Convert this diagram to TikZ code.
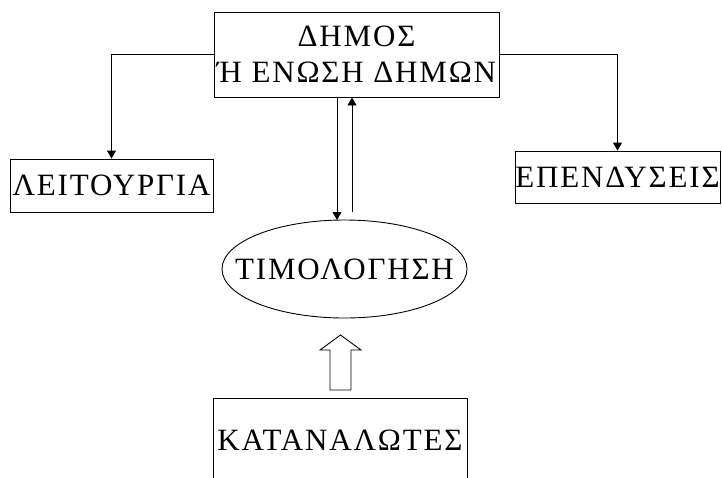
\documentclass[tikz,border=0pt]{standalone}
\usepackage{fontspec}
\setmainfont{Liberation Serif}[LetterSpace=6]
\usetikzlibrary{arrows.meta,shapes.geometric,calc}
\begin{document}
\begin{tikzpicture}[x=1pt,y=-1pt,
  lbl/.style={font=\fontsize{31}{36}\selectfont},
  box/.style={draw, line width=0.9pt, inner sep=0pt, lbl, align=center},
  conn/.style={line width=0.9pt, -{Triangle[length=8pt,width=9pt]}}]
\useasboundingbox (0,0) rectangle (722,477);
\clip (0,0) rectangle (722,477);
\node[box, minimum width=285pt, minimum height=85pt] (top) at (356.5,54.5) {ΔΗΜΟΣ\\Ή ΕΝΩΣΗ ΔΗΜΩΝ};
\node[box, minimum width=203pt, minimum height=53pt] (leit) at (111.5,185.5) {ΛΕΙΤΟΥΡΓΙΑ};
\node[box, minimum width=205pt, minimum height=52pt] (epen) at (617.5,177) {ΕΠΕΝΔΥΣΕΙΣ};
\node[draw, line width=0.9pt, ellipse, inner sep=0pt, minimum width=245pt, minimum height=98pt] (tim) at (344.5,269) {};
\node[lbl, inner sep=0pt] (timtext) at (tim.center) {ΤΙΜΟΛΟΓΗΣΗ};
\node[draw, line width=0.9pt, minimum width=254pt, minimum height=120pt, anchor=north] (kat) at (340,398) {};
\node[lbl, inner sep=0pt, anchor=base] (kattext) at (340,450) {ΚΑΤΑΝΑΛΩΤΕΣ};
\draw[conn] (top.west) -| (leit.north);
\draw[conn] (top.east) -| (epen.north);
\coordinate (dstart) at ($(top.south)+(-19.5,0)$);
\coordinate (dend) at (337,220);
\draw[conn] (dstart) -- (dend);
\coordinate (ustart) at (352,212);
\coordinate (uend) at ($(top.south)+(-4.5,0)$);
\draw[conn] (ustart) -- (uend);
\draw[line width=0.9pt] (330,390) -- (330,350) -- (320,350) -- (340.5,335) -- (361,350) -- (351,350) -- (351,390) -- cycle;
\end{tikzpicture}
\end{document}
